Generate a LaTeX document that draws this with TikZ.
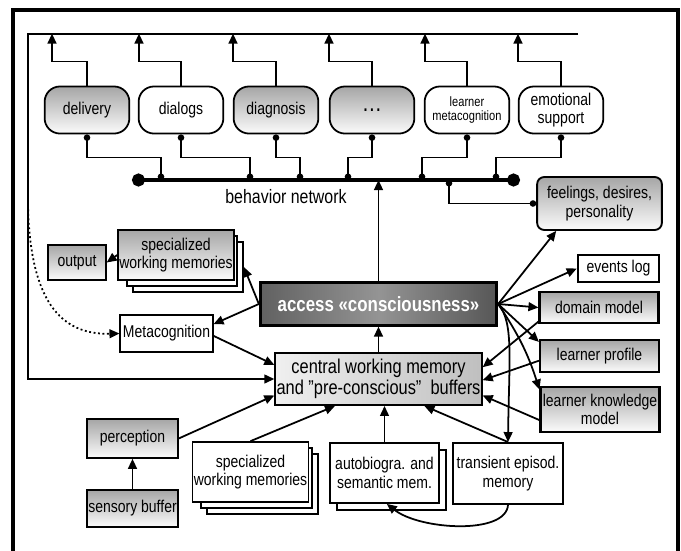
\documentclass[tikz,border=0pt]{standalone}
\usepackage{fontspec}
\setmainfont{Liberation Sans}[FakeStretch=0.82]
\usetikzlibrary{arrows.meta}

\begin{document}
\begin{tikzpicture}[x=0.85pt, y=-0.85pt,
		box/.style = {draw, line width=1.5pt, align=center, inner sep=1pt,
			font=\fontsize{14.5}{15.5}\selectfont},
		greybox/.style = {box, top color=gray!70, bottom color=gray!3},
		whitebox/.style = {box, fill=white},
		behav/.style = {rounded corners=13pt, minimum width=72pt, minimum height=40pt},
		sidebox/.style = {greybox, line width=2pt, minimum width=101pt},
		link/.style = {line width=1.5pt, -{Triangle[length=8.5pt, width=7.5pt]}},
		plug/.style = {line width=1.5pt, {Circle[length=5.5pt]}-{Circle[length=5.5pt]}},
	]
	\useasboundingbox (0,0) rectangle (681,550);
	\draw[line width=3.5pt] (13,551) -- (13,10) -- (678,10) -- (678,551);

	\node[greybox, behav] (deliv) at (87,110) {delivery};
	\node[whitebox, behav] (dial) at (181,110) {dialogs};
	\node[greybox, behav] (diag) at (276,110) {diagnosis};
	\node[greybox, behav, font=\fontsize{21}{22}\selectfont] (more) at (372,110) {\dots};
	\node[whitebox, behav, font=\fontsize{11.5}{12.5}\selectfont] (lmeta) at (467,110) {learner\\metacognition};
	\node[whitebox, behav] (emot) at (561,110) {emotional\\support};

	\draw[link] (deliv.north) -- ++(0,-24) -| ++(-35,-28);
	\draw[link] (dial.north) -- ++(0,-24) -| ++(-42,-28);
	\draw[link] (diag.north) -- ++(0,-24) -| ++(-43,-28);
	\draw[link] (more.north) -- ++(0,-24) -| ++(-43,-28);
	\draw[link] (lmeta.north) -- ++(0,-24) -| ++(-42,-28);
	\draw[link] (emot.north) -- ++(0,-24) -| ++(-43,-28);

	\coordinate (busL) at (132,180);
	\coordinate (busR) at (520,180);
	\coordinate (busT) at (449,180);
	\draw[line width=3.2pt, {Circle[length=11pt]}-{Circle[length=11pt]}] (busL) -- (busR);
	\node[font=\fontsize{16.5}{17}\selectfont] (buslabel) at (286,197) {behavior network};
	\draw[plug] (deliv.south) -- ++(0,23) -| (161,180);
	\draw[plug] (dial.south) -- ++(0,23) -| (250,180);
	\draw[plug] (diag.south) -- ++(0,23) -| (300,180);
	\draw[plug] (more.south) -- ++(0,23) -| (348,180);
	\draw[plug] (lmeta.south) -- ++(0,23) -| (422,180);
	\draw[plug] (emot.south) -- ++(0,23) -| (496,180);

	\node[greybox, rounded corners=6pt, line width=1.6pt, minimum width=106pt, minimum height=45pt] (feel) at (599.5,203.5) {feelings, desires,\\personality};
	\node[whitebox, line width=2pt, minimum width=69pt, minimum height=23pt] (evlog) at (618.5,268.5) {events log};
	\node[sidebox, minimum height=26pt] (domain) at (599,307.5) {domain model};
	\node[sidebox, minimum height=27pt] (lprof) at (599.5,356) {learner profile};
	\node[sidebox, minimum height=38pt] (lknow) at (600,409.5) {learner knowledge\\model};

	\node[box, line width=2.4pt, left color=black!62, right color=black!66, middle color=black!42, text=white,
		font=\fontsize{17.5}{18}\selectfont\bfseries, minimum width=201pt, minimum height=36pt] (access) at (378.5,304) {access «consciousness»};
	\node[box, line width=1.8pt, left color=gray!12, right color=gray!50, font=\fontsize{17}{18}\selectfont,
		minimum width=159pt, minimum height=44pt] (central) at (378.5,379) {central working memory\\and {\char34}pre-conscious{\char34}\ \ buffers};
	\node[whitebox, line width=1pt, minimum width=79pt, minimum height=31.5pt] (meta) at (166.5,333.5) {Metacognition};
	\node[greybox, minimum width=49pt, minimum height=30pt] (output) at (77,262.5) {output};

	\node[whitebox, minimum width=93.5pt, minimum height=42.5pt] (specT3) at (188,267) {};
	\node[whitebox, minimum width=93.5pt, minimum height=42.5pt] (specT2) at (182,261) {};
	\node[greybox, minimum width=93.5pt, minimum height=42.5pt] (specT) at (176,255) {specialized\\working memories};

	\node[greybox, minimum width=77pt, minimum height=33pt] (percep) at (132.5,438.5) {perception};
	\node[greybox, minimum width=77pt, minimum height=31.5pt] (sensory) at (132.5,508.5) {sensory buffer};

	\node[whitebox, minimum width=94pt, minimum height=51pt] (specB3) at (262.5,484) {};
	\node[whitebox, minimum width=94pt, minimum height=51pt] (specB2) at (256.5,478) {};
	\node[whitebox, minimum width=94pt, minimum height=51pt] (specB) at (250.5,472) {specialized\\working memories};
	\node[whitebox, minimum width=93pt, minimum height=51pt] (autobio2) at (391.5,480) {};
	\node[whitebox, minimum width=93pt, minimum height=51pt] (autobio) at (384.5,473) {autobiogra. and\\semantic mem.};
	\node[whitebox, minimum width=93.5pt, minimum height=52pt] (trans) at (508,473.5) {transient episod.\\memory};

	\coordinate (tap) at (28,205);
	\draw[link] (578,34) -- (28,34) |- (central.west);
	\draw[link, dash pattern=on 1.6pt off 2.2pt] (tap) .. controls (30,300) and (60,335) .. (meta.west);
	\draw[link] (specT.west) -- (output.east);
	\draw[link] (access.west) -- (specT3.east);
	\draw[link] (access.west) -- ([yshift=8pt]meta.east);
	\draw[link] ([yshift=-2pt]meta.east) -- ([yshift=12pt]central.west);
	\draw[link] (percep.east) -- ([yshift=-14pt]central.west);
	\draw[link] (sensory.north) -- (percep.south);
	\draw[link] (specB.north) -- ([xshift=-37pt]central.south);
	\draw[link] (autobio.north) -- (autobio.north |- central.south);
	\draw[link] (trans.north) -- ([xshift=39pt]central.south);
	\draw[link] (central.north) -- (access.south);
	\draw[link] (access.north) -- (access.north |- busL);
	\draw[plug] (busT) |- (feel.west);
	\draw[link] (access.east) -- ([xshift=17pt]feel.south west);
	\draw[link] (access.east) -- (evlog.west);
	\draw[link] (access.east) -- (domain.west);
	\draw[link] (access.east) -- ([yshift=-2.5pt]lprof.north west);
	\draw[link] (access.east) to[bend left=8] ([yshift=-3pt]lknow.north west);
	\draw[link] (access.east) .. controls (514,322) and (509,360) .. (trans.north);
	\draw[link] ([yshift=2pt]domain.south west) -- ([yshift=10pt]central.east);
	\draw[link] ([yshift=-4pt]lprof.west) -- ([yshift=-1pt]central.east);
	\draw[link] ([yshift=-9pt]lknow.west) -- ([yshift=-14pt]central.east);
	\draw[link] (trans.south) .. controls (506,535) and (420,530) .. ([xshift=2pt]autobio.south);
\end{tikzpicture}
\end{document}
